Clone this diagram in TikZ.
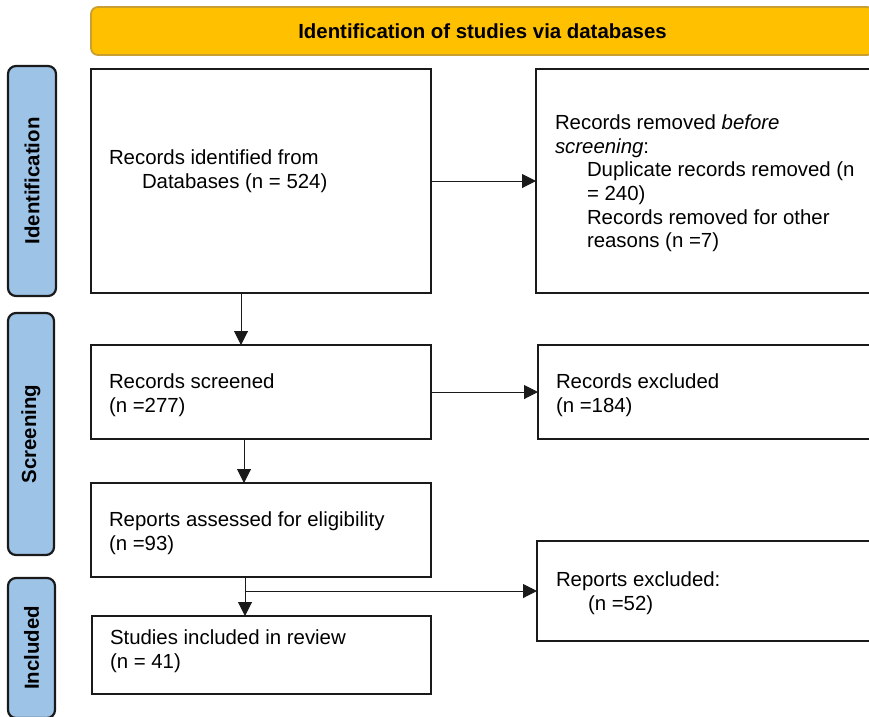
\documentclass[tikz,border=0pt]{standalone}
\usepackage{fontspec}
\setmainfont{Liberation Sans}
\usetikzlibrary{arrows.meta}
\definecolor{bannergold}{HTML}{FFC000}
\definecolor{bannerline}{HTML}{C8A032}
\definecolor{phaseblue}{HTML}{9DC3E6}
\definecolor{ink}{HTML}{1A1A1A}

\begin{document}
\begin{tikzpicture}[x=1pt,y=-1pt,
  every node/.style={font=\fontsize{20.4}{23.6}\selectfont, inner sep=0pt, outer sep=0pt},
  stagebox/.style={draw=ink, line width=2pt, fill=white, anchor=north west},
  phase/.style={draw=ink, line width=2.2pt, fill=phaseblue, rounded corners=8pt, anchor=north west,
    font=\fontsize{20.4}{23.6}\selectfont\bfseries},
  banner/.style={draw=bannerline, line width=1.8pt, fill=bannergold, rounded corners=7pt, anchor=north west,
    font=\fontsize{20.4}{23.6}\selectfont\bfseries},
  note/.style={anchor=north west, align=left},
  flow/.style={draw=ink, line width=1pt, -{Triangle[length=14pt,width=14pt]}},
  plain/.style={draw=ink, line width=1pt}
]
\clip (0,0) rectangle (869,716);

% header banner
\node[banner, minimum width=783pt, minimum height=48pt] (banner) at (91,7)
  {Identification of studies via databases};

% phase labels on the left
\node[phase, minimum width=48pt, minimum height=230pt] (phIdent) at (8,66)
  {\rotatebox{90}{Identification}};
\node[phase, minimum width=46pt, minimum height=242pt] (phScreen) at (8,313)
  {\rotatebox{90}{Screening}};
\node[phase, minimum width=47pt, minimum height=140pt] (phIncl) at (8,578)
  {\rotatebox{90}{Included}};

% main column
\node[stagebox, minimum width=340pt, minimum height=224pt] (ident) at (91,69) {};
\node[stagebox, minimum width=340pt, minimum height=94pt] (screened) at (91,345) {};
\node[stagebox, minimum width=340pt, minimum height=94pt] (assessed) at (91,483) {};
\node[stagebox, minimum width=339pt, minimum height=78pt] (included) at (92,616) {};

% exclusion column
\node[stagebox, minimum width=345pt, minimum height=224pt] (removed) at (536,69) {};
\node[stagebox, minimum width=345pt, minimum height=94pt] (recexcl) at (538,345) {};
\node[stagebox, minimum width=345pt, minimum height=100pt] (repexcl) at (537,541) {};

% box texts
\node[note] (identTxt) at (109,150)
  {Records identified from\\\hspace*{33pt}Databases (n = 524)};
\node[note] (removedTxt) at (555,115)
  {Records removed \textit{before}\\\textit{screening}:\\
   \hspace*{32pt}Duplicate records removed (n\\\hspace*{32pt}= 240)\\
   \hspace*{32pt}Records removed for other\\\hspace*{32pt}reasons (n =7)};
\node[note] (screenedTxt) at (109,374) {Records screened\\(n =277)};
\node[note] (recexclTxt) at (556,374) {Records excluded\\(n =184)};
\node[note] (assessedTxt) at (109,512) {Reports assessed for eligibility\\(n =93)};
\node[note] (repexclTxt) at (556,572) {Reports excluded:\\\hspace*{32pt}(n =52)};
\node[note] (includedTxt) at (110,630) {Studies included in review\\(n = 41)};

% connectors
\draw[flow] (ident.east) -- (removed.west);
\draw[flow] (241,0 |- ident.south) -- (241,0 |- screened.north);
\draw[flow] (screened.east) -- (recexcl.west);
\draw[flow] (244,0 |- screened.south) -- (244,0 |- assessed.north);
\coordinate (branch) at (245,591);
\draw[flow] (245,0 |- assessed.south) -- (245,0 |- included.north);
\draw[flow] (branch) -- (repexcl.west);
\end{tikzpicture}
\end{document}
